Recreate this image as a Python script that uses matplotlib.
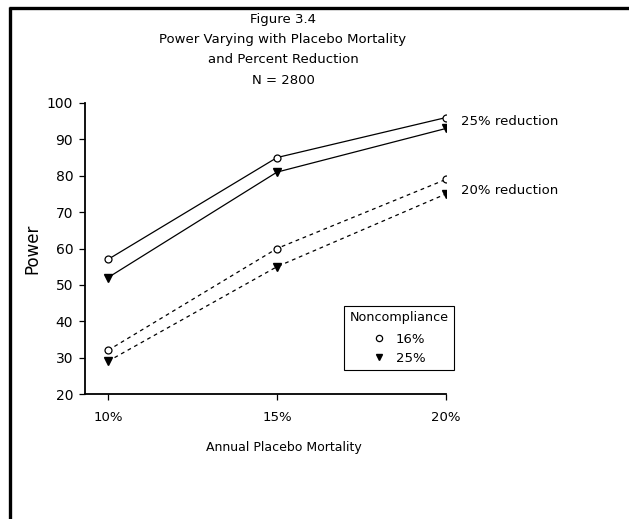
import matplotlib
matplotlib.use("Agg")
import matplotlib.pyplot as plt
from matplotlib.lines import Line2D

mortality = [10, 15, 20]
tick_labels = ["10%", "15%", "20%"]
red25_nc16 = [57, 85, 96]
red25_nc25 = [52, 81, 93]
red20_nc16 = [32, 60, 79]
red20_nc25 = [29, 55, 75]
yticks = [20, 30, 40, 50, 60, 70, 80, 90, 100]

W, H = 629, 519
fig = plt.figure(figsize=(W / 100, H / 100), dpi=100)
plt.rcParams['font.family'] = ['DejaVu Sans']

ax = fig.add_axes([85 / W, 1 - 394 / H, (446 - 85) / W, (394 - 103) / H])
ax.set_xlim(10 - 23 / 33.8, 20)
ax.set_ylim(20, 100)

lw = 0.9
ms_c = 5
ms_t = 5.5
ax.plot(mortality, red25_nc16, color='black', lw=lw, marker='o', mfc='white', mec='black', ms=ms_c, mew=0.9)
ax.plot(mortality, red25_nc25, color='black', lw=lw, marker='v', mfc='black', mec='black', ms=ms_t)
ax.plot(mortality, red20_nc16, color='black', lw=lw, ls=(0, (3, 3)), marker='o', mfc='white', mec='black', ms=ms_c, mew=0.9)
ax.plot(mortality, red20_nc25, color='black', lw=lw, ls=(0, (3, 3)), marker='v', mfc='black', mec='black', ms=ms_t)

ax.set_xticks(mortality)
ax.set_xticklabels(tick_labels, fontsize=9.5)
ax.set_yticks(yticks)
ax.set_yticklabels([str(v) for v in yticks], fontsize=10)
ax.tick_params(direction='out', length=4.5, width=0.9, colors='black', pad=4)
ax.tick_params(axis='x', pad=8)
for s in ['top', 'right']:
    ax.spines[s].set_visible(False)
for s in ['left', 'bottom']:
    ax.spines[s].set_linewidth(1.3)
ax.spines['left'].set_bounds(20, 100)
ax.spines['bottom'].set_bounds(ax.get_xlim()[0], 20)

ax.set_ylabel("Power", fontsize=12, labelpad=4)
fig.text(284 / W, 1 - 448 / H, "Annual Placebo Mortality", ha='center', va='center', fontsize=9)

ax.annotate("25% reduction", xy=(20, 95), xytext=(11, 0), textcoords='offset points',
            ha='left', va='center', fontsize=9.5, annotation_clip=False)
ax.annotate("20% reduction", xy=(20, 76), xytext=(11, 0), textcoords='offset points',
            ha='left', va='center', fontsize=9.5, annotation_clip=False)

titles = ["Figure 3.4", "Power Varying with Placebo Mortality", "and Percent Reduction", "N = 2800"]
for i, t in enumerate(titles):
    fig.text(283 / W, 1 - (20 + 20 * i) / H, t, ha='center', va='center', fontsize=9.5)

handles = [Line2D([], [], ls='none', marker='o', mfc='white', mec='black', ms=4.5, mew=0.9, color='black'),
           Line2D([], [], ls='none', marker='v', mfc='black', mec='black', ms=5, color='black')]
leg = ax.legend(handles, ["16%", "25%"], title="Noncompliance", loc='upper left',
                bbox_to_anchor=((344 - 85) / 361, (394 - 306) / 291), borderaxespad=0,
                frameon=True, fancybox=False, edgecolor='black', fontsize=9.5,
                title_fontsize=9.2, handlelength=1.0, handletextpad=0.8,
                borderpad=0.4, labelspacing=0.45, framealpha=1)
leg.get_frame().set_linewidth(0.8)
leg._legend_box.align = "center"
leg._legend_box.sep = 6

# figure border (top and left)
fig.add_artist(Line2D([8.5 / W, 1], [1 - 8 / H, 1 - 8 / H], color='black', lw=2.4,
                      solid_capstyle='butt', transform=fig.transFigure))
fig.add_artist(Line2D([9.5 / W, 9.5 / W], [0, 1 - 7 / H], color='black', lw=2.4,
                      solid_capstyle='butt', transform=fig.transFigure))

fig.savefig("out.png", dpi=100)
